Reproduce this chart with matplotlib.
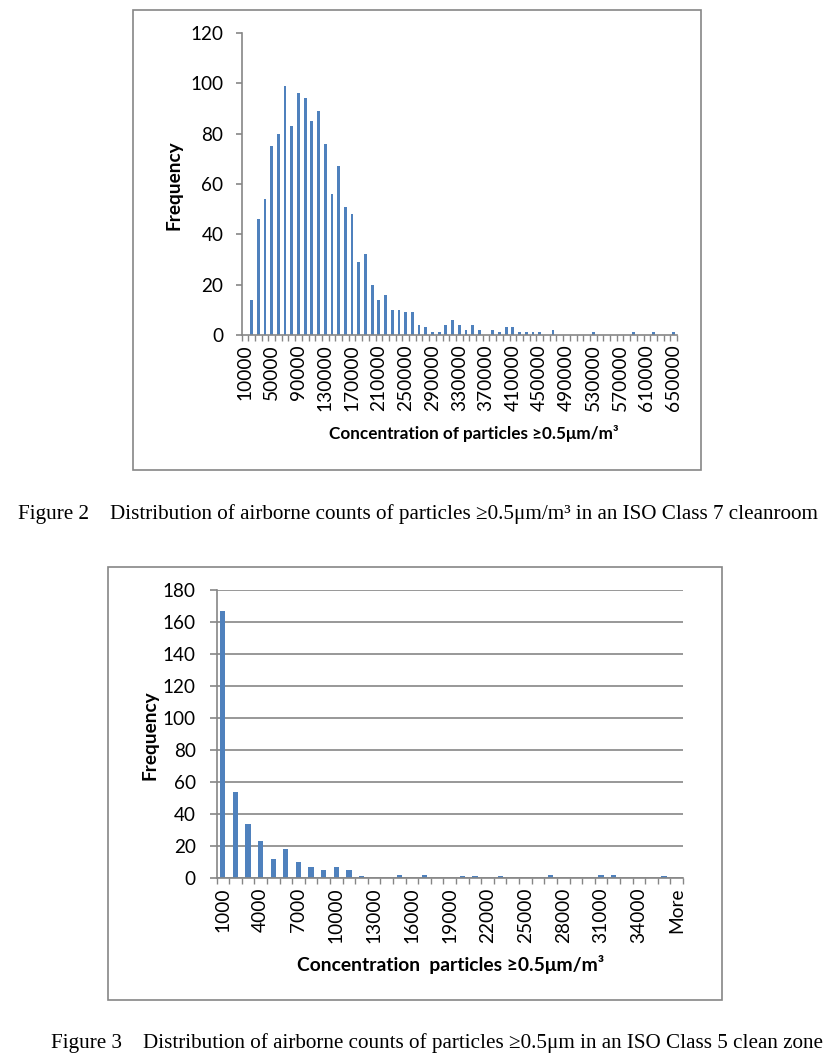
import numpy as np
import matplotlib.pyplot as plt
from matplotlib.patches import Rectangle

# Figure 2 data: ISO Class 7 cleanroom, bins 10000..650000 step 10000
class7_bins = [str(v) for v in range(10000, 650001, 10000)]
class7_freq = [0, 14, 46, 54, 75, 80, 99, 83, 96, 94,
               85, 89, 76, 56, 67, 51, 48, 29, 32, 20,
               14, 16, 10, 10, 9, 9, 4, 3, 1, 1,
               4, 6, 4, 2, 4, 2, 0, 2, 1, 3,
               3, 1, 1, 1, 1, 0, 2, 0, 0, 0,
               0, 0, 1, 0, 0, 0, 0, 0, 1, 0,
               0, 1, 0, 0, 1]

# Figure 3 data: ISO Class 5 clean zone, bins 1000..36000 step 1000 + More
class5_bins = [str(v) for v in range(1000, 36001, 1000)] + ['More']
class5_freq = [167, 54, 34, 23, 12, 18, 10, 7, 5, 7,
               5, 1, 0, 0, 2, 0, 2, 0, 0, 1,
               1, 0, 1, 0, 0, 0, 2, 0, 0, 0,
               2, 2, 0, 0, 0, 1, 0]

W, H = 838, 1063
BAR = '#4F81BD'
AXC = '#868686'
SANS = ['Lato', 'DejaVu Sans']
SERIF = ['Liberation Serif', 'DejaVu Serif']

fig = plt.figure(figsize=(W / 100, H / 100), dpi=100)


def px_axes(x0, y0, x1, y1):
    # pixel box (top-left origin) -> figure axes
    return fig.add_axes([x0 / W, 1 - y1 / H, (x1 - x0) / W, (y1 - y0) / H])


def frame(x0, y0, x1, y1):
    fig.patches.append(Rectangle((x0 / W, 1 - y1 / H), (x1 - x0) / W, (y1 - y0) / H,
                                 transform=fig.transFigure, fill=False,
                                 edgecolor=AXC, linewidth=1.2))


def style_axes(ax, labels, step, ymax, ystep, grid, ytick_len, ypad):
    n = len(labels)
    x = np.arange(n)
    ax.set_xlim(-0.5, n - 0.5)
    ax.set_ylim(0, ymax)
    ax.set_yticks(np.arange(0, ymax + 1, ystep))
    ax.set_xticks(x[::step])
    ax.set_xticklabels(labels[::step], rotation=90, family=SANS, fontsize=13.8)
    ax.set_xticks(np.arange(-0.5, n, 1), minor=True)
    ax.tick_params(axis='x', which='major', length=0, pad=7)
    ax.tick_params(axis='x', which='minor', length=4, color=AXC, width=1)
    ax.tick_params(axis='y', length=ytick_len, color=AXC, width=1.2, pad=ypad)
    for lab in ax.get_yticklabels():
        lab.set_family(SANS)
        lab.set_fontsize(13.6)
    for s in ['top', 'right']:
        ax.spines[s].set_visible(False)
    for s in ['left', 'bottom']:
        ax.spines[s].set_color(AXC)
        ax.spines[s].set_linewidth(1.2)
    if grid:
        ax.yaxis.grid(True, color=AXC, linewidth=1.2)
        ax.set_axisbelow(True)


# ---- Figure 2 ----
frame(133, 10, 701, 470)
ax1 = px_axes(241.5, 33, 677, 335)
ax1.bar(np.arange(len(class7_freq)), class7_freq, width=0.42, color=BAR)
style_axes(ax1, class7_bins, 4, 120, 20, grid=False, ytick_len=4, ypad=9)
fig.text(174 / W, 1 - 185 / H, 'Frequency', rotation=90, ha='center', va='center',
         family=SANS, fontsize=13.7, fontweight='bold')
fig.text(474 / W, 1 - 433 / H, 'Concentration of particles \u22650.5\u03bcm/m\u00b3',
         ha='center', va='center', family=SANS, fontsize=12.3, fontweight='bold')
fig.text(418 / W, 1 - 514 / H,
         'Figure 2    Distribution of airborne counts of particles \u22650.5\u03bcm/m\u00b3 in an ISO Class 7 cleanroom',
         ha='center', va='center', family=SERIF, fontsize=15.2)

# ---- Figure 3 ----
frame(108, 567, 722, 1000)
ax2 = px_axes(216.5, 590, 683, 878)
ax2.bar(np.arange(len(class5_freq)), class5_freq, width=0.42, color=BAR)
style_axes(ax2, class5_bins, 3, 180, 20, grid=True, ytick_len=5, ypad=10)
fig.text(149.5 / W, 1 - 735 / H, 'Frequency', rotation=90, ha='center', va='center',
         family=SANS, fontsize=13.7, fontweight='bold')
fig.text(451 / W, 1 - 964 / H, 'Concentration  particles \u22650.5\u03bcm/m\u00b3',
         ha='center', va='center', family=SANS, fontsize=13.9, fontweight='bold')
fig.text(437 / W, 1 - 1043 / H,
         'Figure 3    Distribution of airborne counts of particles \u22650.5\u03bcm in an ISO Class 5 clean zone',
         ha='center', va='center', family=SERIF, fontsize=15.2)

fig.savefig('out.png', dpi=100, facecolor='white')
